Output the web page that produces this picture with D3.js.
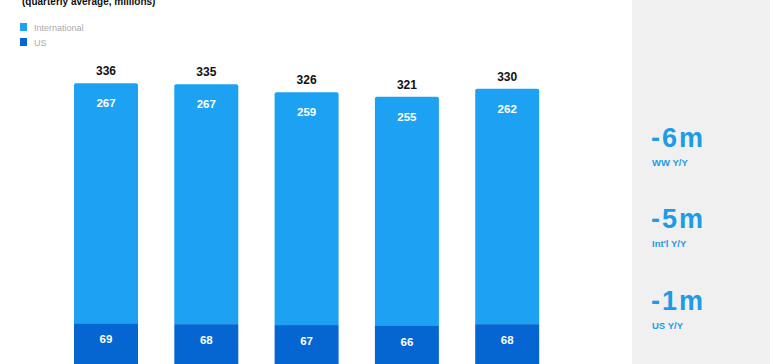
<!DOCTYPE html>
<html><head><meta charset="utf-8">
<script src="https://cdn.jsdelivr.net/npm/d3@7"></script>
<style>body{margin:0;background:#fff}svg{display:block;font-family:"Liberation Sans",Arial,Helvetica,sans-serif}</style>
</head><body><svg id="c" width="770" height="364"></svg>
<script>
const quarters = ["Q1'18","Q2'18","Q3'18","Q4'18","Q1'19"];
const international = [267, 267, 259, 255, 262];
const us = [69, 68, 67, 66, 68];
const totals = [336, 335, 326, 321, 330];
const seriesNames = ["International", "US"];
const kpiValues = ["-6m", "-5m", "-1m"];
const kpiLabels = ["WW Y/Y", "Int'l Y/Y", "US Y/Y"];

const colIntl = "#1da1f2", colUS = "#0566d1", kpiCol = "#1d9be6";
const svg = d3.select("#c");

// right panel
svg.append("rect").attr("x",632).attr("y",0).attr("width",138).attr("height",364).attr("fill","#f0f0f0");

const x = d3.scaleBand().domain(quarters).range([55.85, 557.35]).paddingInner(0.362).paddingOuter(0.181);
const y = d3.scaleLinear().domain([0, 400]).range([385.3, 25.7]);

// title (cut off at the top as in the reference)
svg.append("text").attr("x",22).attr("y",4.5).attr("font-size",10).attr("font-weight","bold").attr("fill","#111")
  .text("(quarterly average, millions)");

// legend
const leg = svg.append("g");
seriesNames.forEach((n,i)=>{
  leg.append("rect").attr("x",20).attr("y",23+i*15).attr("width",7).attr("height",8).attr("fill", i===0?colIntl:colUS);
  leg.append("text").attr("x",34).attr("y",30.5+i*15).attr("font-size",9).attr("fill","#aaa").text(n);
});

const g = svg.append("g");
quarters.forEach((q,i)=>{
  const x0 = x(q), w = x.bandwidth();
  const yTop = y(us[i] + international[i]);
  const yMid = y(us[i]);
  g.append("path").attr("fill", colIntl)
    .attr("d", `M${x0},${yMid}V${yTop+2}Q${x0},${yTop} ${x0+2},${yTop}H${x0+w-2}Q${x0+w},${yTop} ${x0+w},${yTop+2}V${yMid}Z`);
  g.append("rect").attr("x",x0).attr("y",yMid).attr("width",w).attr("height",y(0)-yMid).attr("fill",colUS);
  g.append("text").attr("x",x0+w/2).attr("y",yTop-8).attr("text-anchor","middle").attr("font-size",12).attr("font-weight","bold").attr("fill","#111").text(totals[i]);
  g.append("text").attr("x",x0+w/2).attr("y",yTop+24).attr("text-anchor","middle").attr("font-size",11.5).attr("font-weight","bold").attr("fill","#fff").text(international[i]);
  g.append("text").attr("x",x0+w/2).attr("y",yMid+20).attr("text-anchor","middle").attr("font-size",11.5).attr("font-weight","bold").attr("fill","#fff").text(us[i]);
});

// KPIs
const kpiBase = [146.5, 227.5, 310];
kpiValues.forEach((v,i)=>{
  svg.append("text").attr("x",651).attr("y",kpiBase[i]).attr("font-size",27).attr("font-weight","bold").attr("letter-spacing",2).attr("fill",kpiCol).text(v);
  svg.append("text").attr("x",652).attr("y",kpiBase[i]+19).attr("font-size",9.5).attr("font-weight","bold").attr("fill",kpiCol).text(kpiLabels[i]);
});
</script></body></html>
